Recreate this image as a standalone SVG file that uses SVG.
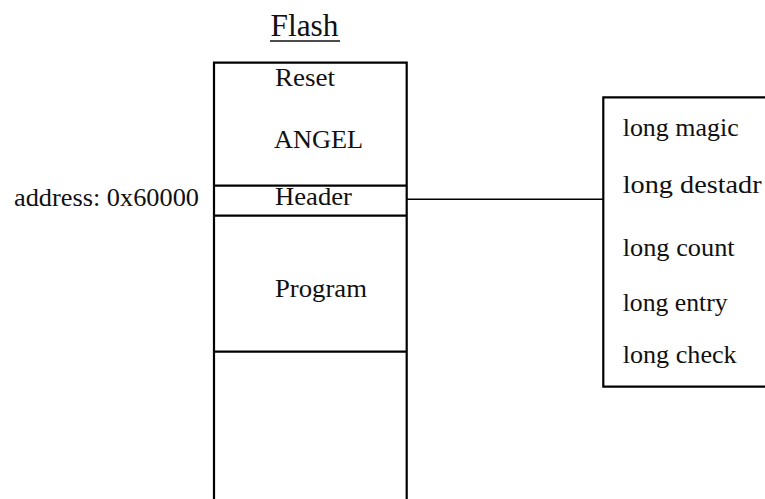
<svg xmlns="http://www.w3.org/2000/svg" width="765" height="499" viewBox="0 0 765 499">
  <style>
    .frame { fill: none; stroke: #000; stroke-width: 2.2; }
    .wire { fill: none; stroke: #000; stroke-width: 1.6; }
    text { font-family: "Liberation Serif", "Times New Roman", serif; fill: #111; }
    .lbl { font-size: 26px; }
    .title { font-size: 31px; }
  </style>
  <rect width="765" height="499" fill="#fff"/>

  <!-- Flash memory map -->
  <g id="flash-title">
    <text class="title" x="270.5" y="36" textLength="68" lengthAdjust="spacingAndGlyphs">Flash</text>
    <line x1="270" y1="41" x2="340" y2="41" stroke="#111" stroke-width="1.6"/>
  </g>

  <g id="flash-column">
    <path class="frame" d="M214,500 V62.7 H406.7 V500"/>
  </g>

  <g id="region-reset-angel">
    <text class="lbl" x="275" y="86" textLength="60" lengthAdjust="spacingAndGlyphs">Reset</text>
    <text class="lbl" x="274" y="148" textLength="89" lengthAdjust="spacingAndGlyphs">ANGEL</text>
  </g>

  <g id="region-header">
    <line class="frame" x1="214" y1="185.7" x2="406.7" y2="185.7"/>
    <line class="frame" x1="214" y1="215.7" x2="406.7" y2="215.7"/>
    <text class="lbl" x="275" y="204.5" textLength="77" lengthAdjust="spacingAndGlyphs">Header</text>
  </g>

  <g id="address-label">
    <text class="lbl" x="14" y="206" textLength="185" lengthAdjust="spacingAndGlyphs">address: 0x60000</text>
  </g>

  <g id="region-program">
    <line class="frame" x1="214" y1="351.7" x2="406.7" y2="351.7"/>
    <text class="lbl" x="275" y="296.7" textLength="92" lengthAdjust="spacingAndGlyphs">Program</text>
  </g>

  <!-- Header structure fields -->
  <g id="header-struct">
    <path class="frame" d="M770,97.3 H603.3 V386.7 H770"/>
    <text class="lbl" x="622.7" y="136" textLength="116" lengthAdjust="spacingAndGlyphs">long magic</text>
    <text class="lbl" x="622.7" y="193.3" textLength="139" lengthAdjust="spacingAndGlyphs">long destadr</text>
    <text class="lbl" x="622.7" y="255.7" textLength="112" lengthAdjust="spacingAndGlyphs">long count</text>
    <text class="lbl" x="622.7" y="311" textLength="105" lengthAdjust="spacingAndGlyphs">long entry</text>
    <text class="lbl" x="622.7" y="363.3" textLength="114" lengthAdjust="spacingAndGlyphs">long check</text>
  </g>

  <g id="connectors">
    <line class="wire" x1="406.7" y1="199.3" x2="603.3" y2="199.3"/>
  </g>
</svg>
